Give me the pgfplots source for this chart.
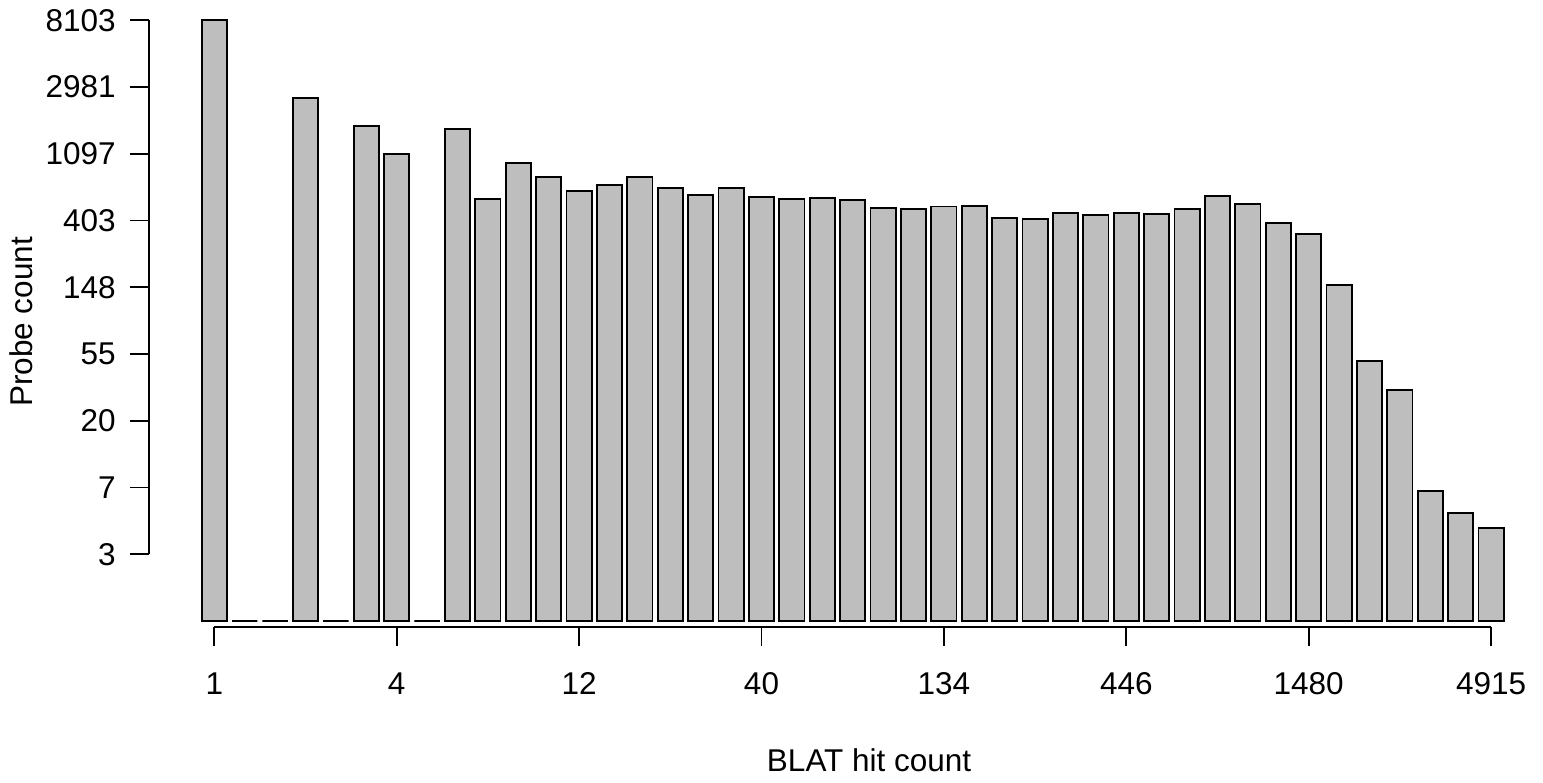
\documentclass[border=0pt]{standalone}
\usepackage{fontspec}
\setmainfont{Liberation Sans}
\usepackage{pgfplots}
\pgfplotsset{compat=1.18}
\definecolor{bargray}{RGB}{190,190,190}
\begin{document}
\fontsize{15.75}{18}\selectfont
\begin{tikzpicture}[font=\fontsize{15.75}{18}\selectfont]
\begin{axis}[
  x=15.2pt, y=33.375pt,
  xmin=-2.148, xmax=42.6, ymin=-0.089, ymax=9.3,
  axis line style={draw=none},
  clip=false,
  xtick={0,6,...,42}, xticklabels={1,4,12,40,134,446,1480,4915},
  ytick={1,...,9}, yticklabels={3,7,20,55,148,403,1097,2981,8103},
  xtick pos=bottom, ytick pos=left,
  tick align=outside, major tick length=9.5pt,
  tick style={black, line width=0.9pt},
  /pgf/number format/assume math mode=true,
  tick label style={font=\fontsize{15.75}{18}\selectfont, inner sep=0pt},
  xticklabel style={anchor=north, yshift=-13pt},
  yticklabel style={anchor=east, xshift=-7pt},
]
\addplot[ybar, bar width=0.8333, fill=bargray, draw=black, line width=0.9pt] coordinates {
(0,9.00) (1,0) (2,0) (3,7.84) (4,0) (5,7.416) (6,7.00) (7,0) (8,7.366) (9,6.322)
(10,6.861) (11,6.652) (12,6.442) (13,6.536) (14,6.652) (15,6.487) (16,6.382) (17,6.482) (18,6.352) (19,6.322)
(20,6.337) (21,6.307) (22,6.192) (23,6.168) (24,6.21) (25,6.221) (26,6.042) (27,6.022) (28,6.112) (29,6.077)
(30,6.112) (31,6.102) (32,6.172) (33,6.372) (34,6.247) (35,5.958) (36,5.793) (37,5.034) (38,3.891) (39,3.466)
(40,1.952) (41,1.613) (42,1.393)
};
\draw[line width=0.9pt] (axis cs:0,-0.089) -- (axis cs:42,-0.089);
\draw[line width=0.9pt] (axis cs:-2.148,1) -- (axis cs:-2.148,9);
\node[anchor=base] at (axis cs:21.54,-2.261) {BLAT hit count};
\node[anchor=base, rotate=90] at (axis cs:-5.964,4.480) {Probe count};
\coordinate (bbl) at (axis cs:-7.049,-2.426);
\coordinate (btr) at (axis cs:43.707,9.304);
\end{axis}
\pgfresetboundingbox
\path (bbl) rectangle (btr);
\end{tikzpicture}
\end{document}
